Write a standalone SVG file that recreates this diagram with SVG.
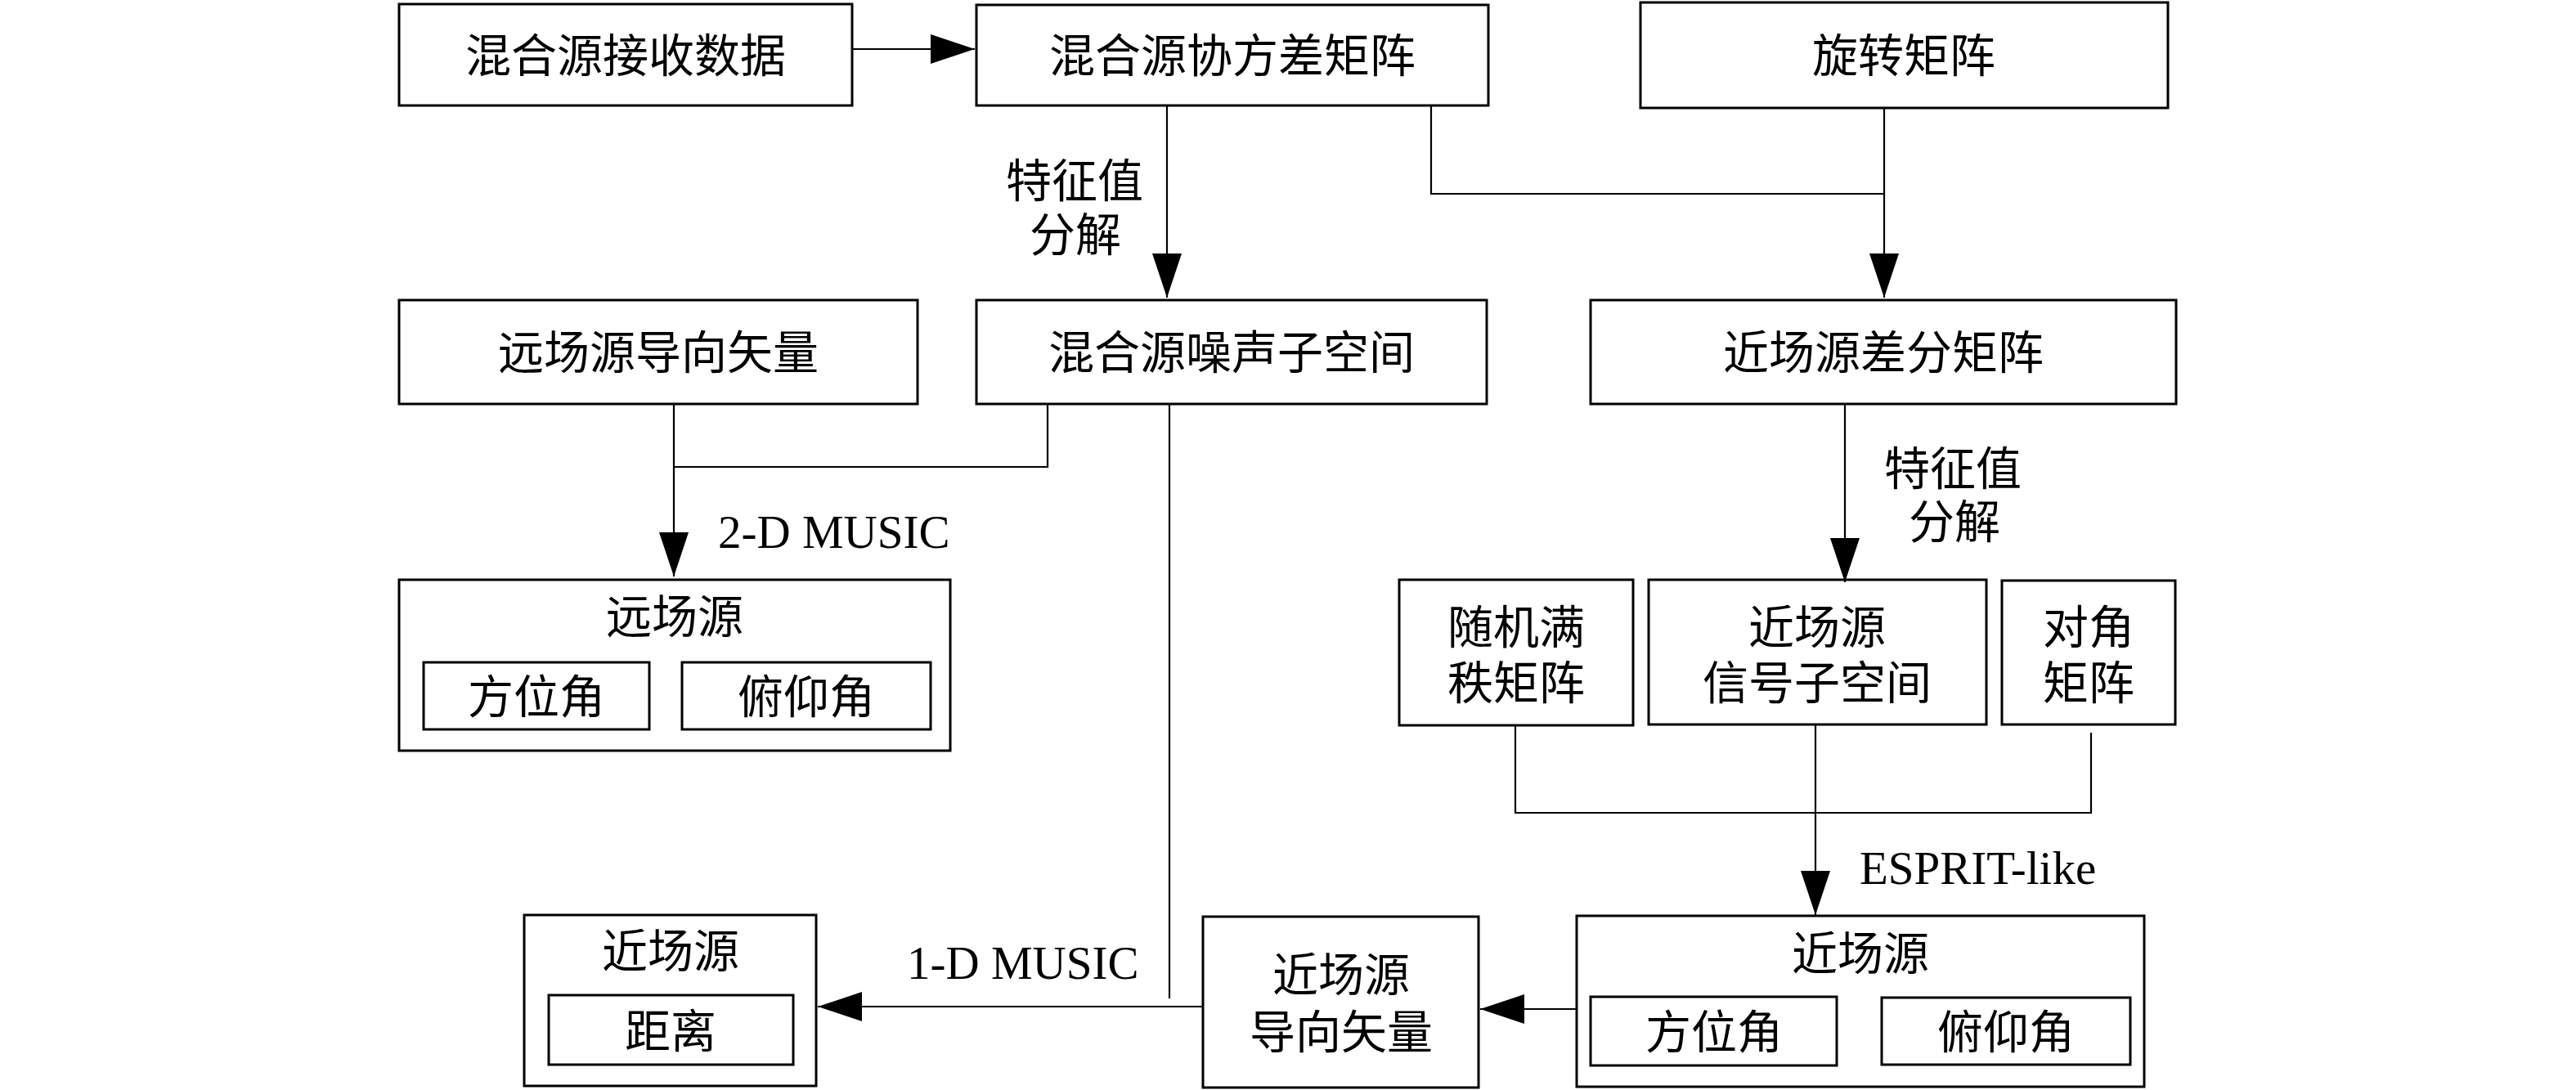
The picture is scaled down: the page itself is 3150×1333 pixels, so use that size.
<svg xmlns="http://www.w3.org/2000/svg" width="3150" height="1333" viewBox="0 0 3150 1333">
<style>
.box{fill:none;stroke:#000;stroke-width:3}
.cn{fill:none;stroke:#000;stroke-width:2.2}
.t{font-family:"Noto Sans CJK SC","Noto Sans CJK JP",sans-serif;font-size:56px;fill:#000;text-anchor:middle}
.l{font-family:"Liberation Serif",serif;font-size:57px;fill:#000}
</style>
<defs>
<marker id="ah" viewBox="0 0 54 36" refX="54" refY="18" markerWidth="54" markerHeight="36" markerUnits="userSpaceOnUse" orient="auto">
<path d="M0,0 L54,18 L0,36 Z" fill="#000"/>
</marker>
</defs>
<rect width="3150" height="1333" fill="#fff"/>
<g id="connectors">
<line class="cn" x1="1042" y1="60" x2="1192" y2="60" marker-end="url(#ah)"/>
<line class="cn" x1="1427" y1="129" x2="1427" y2="364" marker-end="url(#ah)"/>
<polyline class="cn" points="1750,129 1750,237 2304,237"/>
<line class="cn" x1="2304" y1="132" x2="2304" y2="364" marker-end="url(#ah)"/>
<polyline class="cn" points="1281,494 1281,571 824,571"/>
<line class="cn" x1="824" y1="494" x2="824" y2="705" marker-end="url(#ah)"/>
<line class="cn" x1="1430" y1="494" x2="1430" y2="1221"/>
<line class="cn" x1="2256" y1="494" x2="2256" y2="712" marker-end="url(#ah)"/>
<polyline class="cn" points="1853,887 1853,994 2557,994 2557,896"/>
<line class="cn" x1="2220" y1="886" x2="2220" y2="1119" marker-end="url(#ah)"/>
<line class="cn" x1="1471" y1="1231" x2="1000" y2="1231" marker-end="url(#ah)"/>
<line class="cn" x1="1928" y1="1234" x2="1810" y2="1234" marker-end="url(#ah)"/>
<text class="t" x="1314" y="241">特征值</text>
<text class="t" x="1315" y="307">分解</text>
<text class="t" x="2388" y="593">特征值</text>
<text class="t" x="2390" y="658">分解</text>
<text class="l" x="878" y="670">2-D MUSIC</text>
<text class="l" x="1109" y="1197">1-D MUSIC</text>
<text class="l" x="2274" y="1081">ESPRIT-like</text>
</g>
<g id="mixed-data">
<rect class="box" x="488" y="5" width="554" height="124"/>
<text class="t" x="765" y="88">混合源接收数据</text>
</g>
<g id="mixed-covariance">
<rect class="box" x="1194" y="6" width="626" height="123"/>
<text class="t" x="1507" y="88">混合源协方差矩阵</text>
</g>
<g id="rotation-matrix">
<rect class="box" x="2006" y="3" width="645" height="129"/>
<text class="t" x="2328" y="88">旋转矩阵</text>
</g>
<g id="far-steering">
<rect class="box" x="488" y="367" width="634" height="127"/>
<text class="t" x="805" y="451">远场源导向矢量</text>
</g>
<g id="mixed-noise-subspace">
<rect class="box" x="1194" y="367" width="624" height="127"/>
<text class="t" x="1506" y="451">混合源噪声子空间</text>
</g>
<g id="near-diff-matrix">
<rect class="box" x="1945" y="367" width="716" height="127"/>
<text class="t" x="2303" y="451">近场源差分矩阵</text>
</g>
<g id="far-source">
<rect class="box" x="488" y="709" width="674" height="209"/>
<text class="t" x="825" y="774">远场源</text>
<rect class="box" x="518" y="810" width="276" height="82"/>
<text class="t" x="656" y="872">方位角</text>
<rect class="box" x="834" y="810" width="304" height="82"/>
<text class="t" x="986" y="872">俯仰角</text>
</g>
<g id="random-full-rank">
<rect class="box" x="1711" y="709" width="286" height="178"/>
<text class="t" x="1854" y="787">随机满</text>
<text class="t" x="1854" y="855">秩矩阵</text>
</g>
<g id="near-signal-subspace">
<rect class="box" x="2016" y="709" width="413" height="177"/>
<text class="t" x="2222" y="787">近场源</text>
<text class="t" x="2222" y="855">信号子空间</text>
</g>
<g id="diagonal-matrix">
<rect class="box" x="2448" y="710" width="212" height="176"/>
<text class="t" x="2554" y="787">对角</text>
<text class="t" x="2554" y="855">矩阵</text>
</g>
<g id="near-range">
<rect class="box" x="641" y="1119" width="357" height="209"/>
<text class="t" x="820" y="1183">近场源</text>
<rect class="box" x="671" y="1217" width="299" height="85"/>
<text class="t" x="820" y="1281">距离</text>
</g>
<g id="near-steering">
<rect class="box" x="1471" y="1121" width="337" height="209"/>
<text class="t" x="1640" y="1212">近场源</text>
<text class="t" x="1640" y="1282">导向矢量</text>
</g>
<g id="near-angles">
<rect class="box" x="1928" y="1120" width="694" height="209"/>
<text class="t" x="2275" y="1186">近场源</text>
<rect class="box" x="1945" y="1219" width="301" height="84"/>
<text class="t" x="2096" y="1282">方位角</text>
<rect class="box" x="2301" y="1220" width="304" height="82"/>
<text class="t" x="2453" y="1282">俯仰角</text>
</g>
</svg>
